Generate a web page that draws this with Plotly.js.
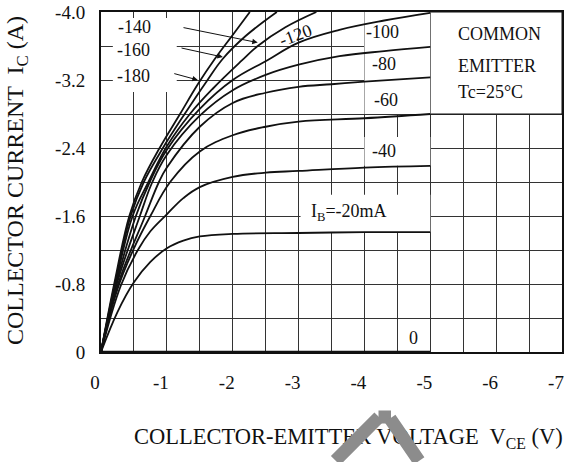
<!DOCTYPE html>
<html>
<head>
<meta charset="utf-8">
<script src="https://cdn.plot.ly/plotly-3.0.1.min.js"></script>
<style>html,body{margin:0;padding:0;background:#fff;}#chart{width:564px;height:462px;}</style>
</head>
<body>
<div id="chart"></div>
<script>
// Collector current curves (VCE in V, IC in A)
const vce20  = [0, -0.25, -0.5, -0.75, -1.0, -1.25, -1.5, -2.0, -3.0, -4.0, -5.0];
const ic20   = [0, -0.47, -0.82, -1.06, -1.22, -1.31, -1.36, -1.39, -1.40, -1.41, -1.41];
const vce40  = [0, -0.3, -0.56, -0.75, -1.0, -1.25, -1.5, -2.0, -2.5, -3.0, -4.0, -5.0];
const ic40   = [0, -0.78, -1.2, -1.42, -1.62, -1.81, -1.94, -2.06, -2.11, -2.13, -2.17, -2.19];
const vce60  = [0, -0.25, -0.5, -0.75, -1.05, -1.5, -2.0, -2.5, -3.0, -4.0, -5.0];
const ic60   = [0, -0.74, -1.22, -1.6, -2.0, -2.36, -2.55, -2.65, -2.71, -2.75, -2.80];
const vce80  = [0, -0.26, -0.67, -0.88, -1.0, -1.5, -2.0, -2.5, -3.0, -3.5, -4.0, -5.0];
const ic80   = [0, -0.8, -1.6, -2.0, -2.17, -2.65, -2.93, -3.05, -3.12, -3.15, -3.18, -3.23];
const vce100 = [0, -0.24, -0.59, -0.78, -1.0, -1.5, -2.0, -2.5, -3.0, -3.62, -4.3, -5.0];
const ic100  = [0, -0.8, -1.6, -2.0, -2.32, -2.78, -3.08, -3.26, -3.38, -3.48, -3.54, -3.59];
const vce120 = [0, -0.23, -0.53, -0.74, -1.0, -1.5, -2.0, -2.52, -3.0, -3.62, -4.3, -5.0];
const ic120  = [0, -0.8, -1.6, -2.0, -2.38, -2.86, -3.2, -3.43, -3.64, -3.79, -3.90, -3.99];
const vce140 = [0, -0.22, -0.48, -0.72, -1.0, -1.35, -1.7, -2.14, -2.38, -2.8, -3.27];
const ic140  = [0, -0.8, -1.6, -2.0, -2.42, -2.8, -3.1, -3.43, -3.6, -3.82, -4.0];
const vce160 = [0, -0.21, -0.45, -0.65, -0.94, -1.27, -1.6, -1.85, -2.2, -2.67];
const ic160  = [0, -0.8, -1.6, -2.0, -2.4, -2.8, -3.18, -3.45, -3.72, -4.0];
const vce180 = [0, -0.2, -0.43, -0.62, -0.89, -1.2, -1.47, -1.73, -2.0, -2.26];
const ic180  = [0, -0.8, -1.6, -2.0, -2.4, -2.8, -3.15, -3.45, -3.73, -4.0];
const vce0   = [0, -5.0];
const ic0    = [0, 0];

const xTickVals = [0, -1, -2, -3, -4, -5, -6, -7];
const xTickText = ["0", "-1", "-2", "-3", "-4", "-5", "-6", "-7"];
const yTickVals = [0, -0.8, -1.6, -2.4, -3.2, -4.0];
const yTickText = ["0", "-0.8", "-1.6", "-2.4", "-3.2", "-4.0"];

const curves = [
  [vce0, ic0], [vce20, ic20], [vce40, ic40], [vce60, ic60], [vce80, ic80],
  [vce100, ic100], [vce120, ic120], [vce140, ic140], [vce160, ic160], [vce180, ic180]
];

const FONT = "Liberation Serif, Times New Roman, serif";

const traces = curves.map((c, i) => ({
  x: c[0], y: c[1], type: "scatter", mode: "lines",
  line: {color: "#111", width: i === 0 ? 2.5 : 1.8, shape: "spline", smoothing: 1.1},
  cliponaxis: i === 0 ? false : true,
  hoverinfo: "skip", showlegend: false
}));

function ann(text, x, y, extra) {
  return Object.assign({text: text, x: x, y: y, xref: "x", yref: "y", showarrow: false,
    font: {family: FONT, size: 18, color: "#111"}}, extra || {});
}
function arrow(x, y, ax, ay) {
  return {text: "", x: x, y: y, ax: ax, ay: ay, xref: "x", yref: "y", axref: "x", ayref: "y",
    showarrow: true, arrowhead: 2, arrowsize: 1.1, arrowwidth: 1, arrowcolor: "#111", standoff: 0, startstandoff: 0};
}
function px2x(px) { return (px - 101) / 461; }
function py2y(py) { return (352 - py) / 340; }
// grey watermark stroke (pixel end points), drawn above the axis title
function stroke(x0, y0, x1, y1) {
  return {text: "", xref: "paper", yref: "paper", x: px2x(x1), y: py2y(y1),
    axref: "pixel", ayref: "pixel", ax: x0 - x1, ay: y0 - y1,
    showarrow: true, arrowhead: 0, arrowwidth: 13, arrowcolor: "#8c8c8c", standoff: 0, startstandoff: 0};
}

const annotations = [
  ann("-140", -0.51, -3.82),
  ann("-160", -0.49, -3.55),
  ann("-180", -0.49, -3.25),
  arrow(-2.38, -3.64, -1.23, -3.82),
  arrow(-1.85, -3.47, -1.20, -3.58),
  arrow(-1.47, -3.20, -1.09, -3.28),
  ann("-120", -2.96, -3.73, {textangle: -20}),
  ann("-100", -4.27, -3.76),
  ann("-80", -4.29, -3.39),
  ann("-60", -4.33, -2.96),
  ann("-40", -4.29, -2.36),
  ann("I<sub>B</sub>=-20mA", -3.77, -1.64),
  ann("0", -4.74, -0.16),
  ann("COMMON", -5.39, -3.74, {xanchor: "left"}),
  ann("EMITTER", -5.39, -3.36, {xanchor: "left"}),
  ann("Tc=25\u00B0C", -5.39, -3.06, {xanchor: "left"}),
  {text: "COLLECTOR-EMITTER VOLTAGE  V<sub>CE</sub> (V)", xref: "paper", yref: "paper",
   x: px2x(348), y: py2y(438), xanchor: "center", yanchor: "middle", showarrow: false,
   font: {family: FONT, size: 22.5, color: "#111"}},
  {text: "COLLECTOR CURRENT  I<sub>C</sub> (A)", xref: "paper", yref: "paper",
   x: px2x(17), y: py2y(181), xanchor: "center", yanchor: "middle", textangle: -90, showarrow: false,
   font: {family: FONT, size: 24, color: "#111"}},
  stroke(334, 476, 379, 417),
  stroke(377, 417, 391, 417),
  stroke(389, 417, 419, 476)
];

const shapes = [
  // white label boxes hiding the grid
  {type: "rect", xref: "x", yref: "y", x0: -0.18, x1: -1.15, y0: -3.06, y1: -3.93, fillcolor: "#fff", line: {width: 0}, layer: "between"},
  {type: "rect", xref: "x", yref: "y", x0: -5.0, x1: -7.0, y0: -2.8, y1: -4.0, fillcolor: "#fff", line: {color: "#111", width: 1}, layer: "between"},
  {type: "rect", xref: "x", yref: "y", x0: -4.0, x1: -5.0, y0: -2.8, y1: -4.0, fillcolor: "#fff", line: {width: 0}, layer: "between"},
  {type: "rect", xref: "x", yref: "y", x0: -4.0, x1: -5.0, y0: -2.19, y1: -2.53, fillcolor: "#fff", line: {width: 0}, layer: "between"},
  {type: "rect", xref: "x", yref: "y", x0: -3.03, x1: -5.0, y0: -1.41, y1: -1.85, fillcolor: "#fff", line: {width: 0}, layer: "between"}
];

const axisCommon = {
  showline: true, mirror: true, linecolor: "#111", linewidth: 2,
  showgrid: true, gridcolor: "#333", gridwidth: 1, zeroline: false,
  ticks: "", tickfont: {family: FONT, size: 19, color: "#111"}, fixedrange: true,
  ticklabeloverflow: "allow"
};

const layout = {
  width: 564, height: 462,
  margin: {l: 101, r: 2, t: 12, b: 110, pad: 0},
  paper_bgcolor: "#fff", plot_bgcolor: "#fff",
  showlegend: false,
  xaxis: Object.assign({}, axisCommon, {
    range: [0, -7], tickmode: "array", tickvals: xTickVals, ticktext: xTickText,
    ticklabelstandoff: 12, ticklabelshift: 6,
    minor: {tickmode: "linear", tick0: 0, dtick: 0.5, showgrid: true, gridcolor: "#333", gridwidth: 1, ticks: ""}
  }),
  yaxis: Object.assign({}, axisCommon, {
    range: [0, -4.0], tickmode: "array", tickvals: yTickVals, ticktext: yTickText,
    ticklabelstandoff: 10,
    minor: {tickmode: "linear", tick0: 0, dtick: 0.4, showgrid: true, gridcolor: "#333", gridwidth: 1, ticks: ""}
  }),
  annotations: annotations,
  shapes: shapes
};

Plotly.newPlot("chart", traces, layout, {displayModeBar: false, staticPlot: true});
</script>
</body>
</html>
